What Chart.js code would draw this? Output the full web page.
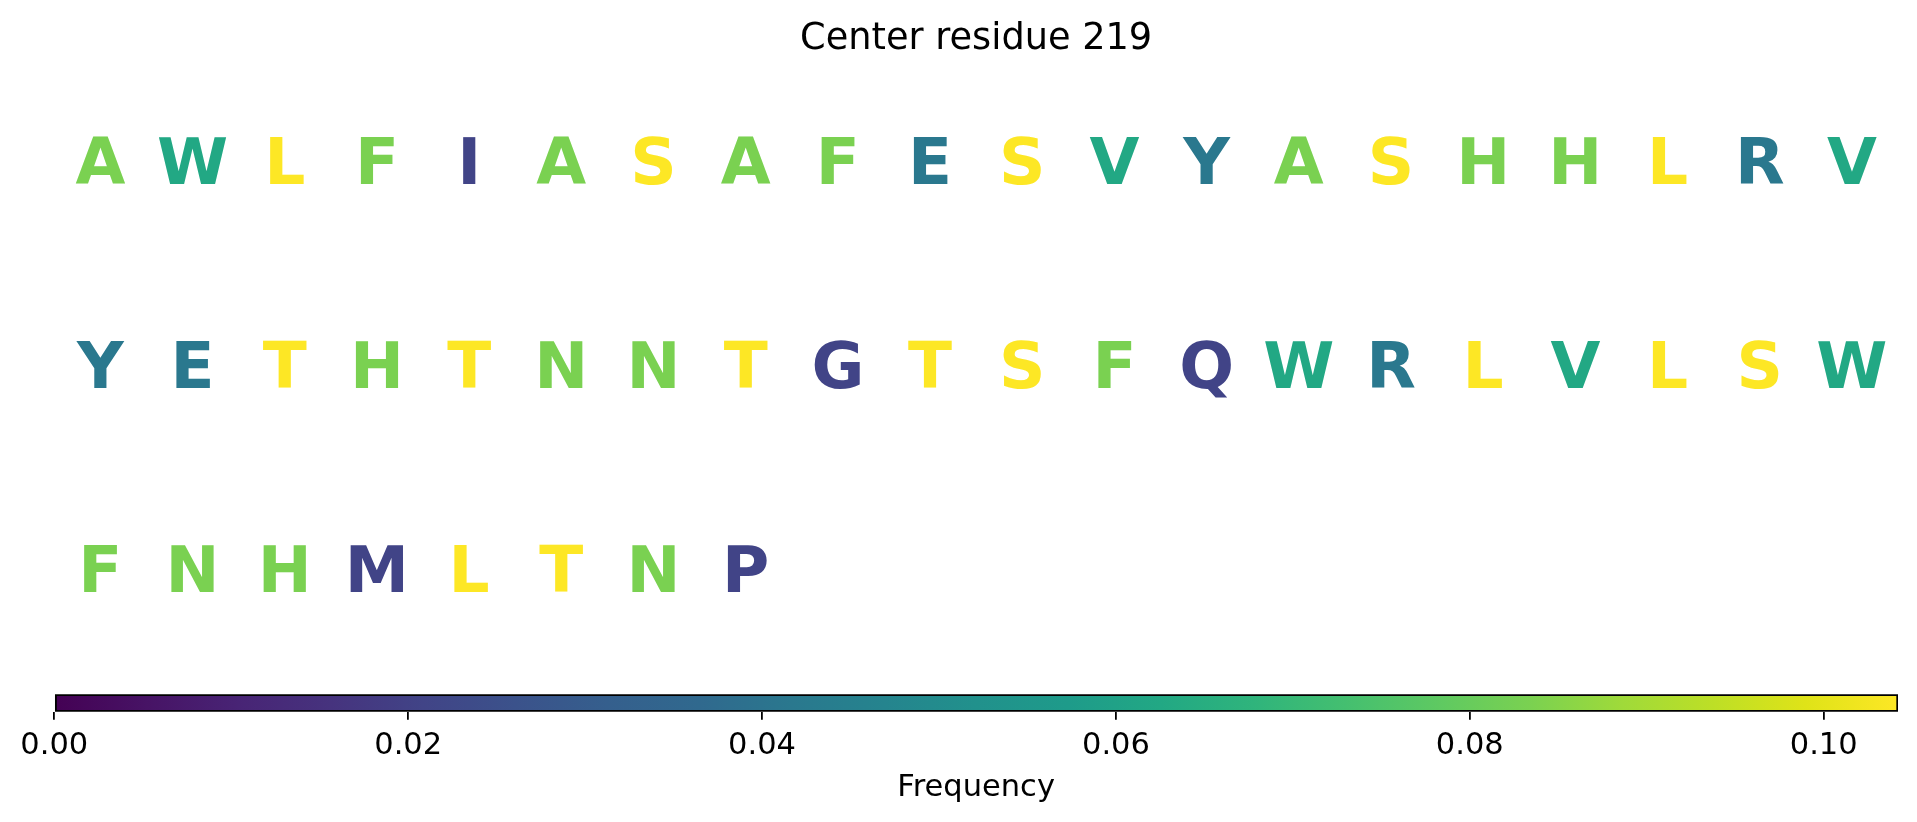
<!DOCTYPE html>
<html>
<head>
<meta charset="utf-8">
<script src="https://cdn.jsdelivr.net/npm/chart.js@4.4.1/dist/chart.umd.min.js"></script>
<style>
  html, body { margin: 0; padding: 0; background: #fff; }
  #main { position: absolute; left: 0; top: 0; width: 1917px; height: 680px; }
  #bar { position: absolute; left: 0; top: 680px; width: 1917px; height: 142px; }
</style>
</head>
<body>
<div id="main"><canvas id="letterChart"></canvas></div>
<div id="bar"><canvas id="colorbarChart"></canvas></div>
<script>
// residues in the order they are shown, 20 per row
const residues = [
    'A','W','L','F','I','A','S','A','F','E','S','V','Y','A','S','H','H','L','R','V',
    'Y','E','T','H','T','N','N','T','G','T','S','F','Q','W','R','L','V','L','S','W',
    'F','N','H','M','L','T','N','P'
];
const columnsPerRow = 20;
const rowCount = 3;

// frequency of each residue type
const aminoAcids  = ['L', 'S', 'T', 'A', 'F', 'H', 'N', 'W', 'V', 'E', 'Y', 'R', 'I', 'G', 'Q', 'M', 'P'];
const frequencies = [0.1042, 0.1042, 0.1042, 0.0833, 0.0833, 0.0833, 0.0833, 0.0625, 0.0625, 0.0417, 0.0417, 0.0417, 0.0208, 0.0208, 0.0208, 0.0208, 0.0208];

const colorbarMin = 0;
const colorbarMax = 0.1042;
const colorbarTicks = [0, 0.02, 0.04, 0.06, 0.08, 0.10];

const titleText = 'Center residue 219';
const colorbarLabel = 'Frequency';

// viridis colormap stops (0 .. 1 in steps of 0.05)
const viridis = [
    '#440154', '#471365', '#482475', '#46337e', '#414487', '#3b528b', '#355f8d',
    '#30698e', '#2a788e', '#25848e', '#21918c', '#1e9b8a', '#22a884', '#2fb47c',
    '#44bf70', '#5ec962', '#7ad151', '#9fda3a', '#bddf26', '#dfe318', '#fde725'
];

function hexToRgb(hex) {
    const n = parseInt(hex.slice(1), 16);
    return [(n >> 16) & 255, (n >> 8) & 255, n & 255];
}

function viridisColor(t) {
    t = Math.min(1, Math.max(0, t));
    const pos = t * (viridis.length - 1);
    const i = Math.min(viridis.length - 2, Math.floor(pos));
    const f = pos - i;
    const a = hexToRgb(viridis[i]);
    const b = hexToRgb(viridis[i + 1]);
    const c = a.map((v, k) => Math.round(v + (b[k] - v) * f));
    return `rgb(${c[0]},${c[1]},${c[2]})`;
}

function colorFor(letter) {
    const freq = frequencies[aminoAcids.indexOf(letter)];
    return viridisColor((freq - colorbarMin) / (colorbarMax - colorbarMin));
}

const letterSize = 64.5;
const fontFamily = '"DejaVu Sans", sans-serif';

const points = residues.map((r, i) => ({
    x: (i % columnsPerRow) + 0.5,
    y: Math.floor(i / columnsPerRow) + 0.5
}));

const letterPlugin = {
    id: 'letters',
    afterDatasetsDraw(chart) {
        const ctx = chart.ctx;
        const meta = chart.getDatasetMeta(0);
        ctx.save();
        ctx.font = `bold ${letterSize}px ${fontFamily}`;
        ctx.textAlign = 'center';
        ctx.textBaseline = 'alphabetic';
        meta.data.forEach((pt, i) => {
            ctx.fillStyle = colorFor(residues[i]);
            // put the middle of the capital letter on the point
            ctx.fillText(residues[i], pt.x, pt.y + letterSize * 0.3645);
        });
        ctx.restore();
    }
};

new Chart(document.getElementById('letterChart'), {
    type: 'scatter',
    data: {
        datasets: [{
            data: points,
            pointRadius: 0,
            pointHoverRadius: 0
        }]
    },
    options: {
        responsive: true,
        maintainAspectRatio: false,
        animation: false,
        events: [],
        layout: { padding: { left: 54.3, right: 19, top: 0, bottom: 9.8 } },
        plugins: {
            legend: { display: false },
            tooltip: { enabled: false },
            title: {
                display: true,
                text: titleText,
                color: '#000',
                font: { family: fontFamily, size: 36.7, weight: 'normal', lineHeight: 1 },
                padding: { top: 21.4, bottom: 0 }
            }
        },
        scales: {
            x: { type: 'linear', min: 0, max: columnsPerRow, display: false },
            y: { type: 'linear', min: 0, max: rowCount, reverse: true, display: false }
        }
    },
    plugins: [letterPlugin]
});

new Chart(document.getElementById('colorbarChart'), {
    type: 'bar',
    data: {
        labels: [''],
        datasets: [{
            data: [[colorbarMin, colorbarMax]],
            backgroundColor: function (context) {
                const area = context.chart.chartArea;
                if (!area) return viridis[0];
                const g = context.chart.ctx.createLinearGradient(area.left, 0, area.right, 0);
                viridis.forEach((c, i) => g.addColorStop(i / (viridis.length - 1), c));
                return g;
            },
            borderColor: '#000',
            borderWidth: 2,
            borderSkipped: false,
            barPercentage: 1,
            categoryPercentage: 1
        }]
    },
    options: {
        indexAxis: 'y',
        responsive: true,
        maintainAspectRatio: false,
        animation: false,
        events: [],
        layout: { padding: { left: 54.3, right: 19, top: 14.3, bottom: 0 } },
        plugins: {
            legend: { display: false },
            tooltip: { enabled: false }
        },
        scales: {
            y: { display: false },
            x: {
                type: 'linear',
                position: 'bottom',
                min: colorbarMin,
                max: colorbarMax,
                afterBuildTicks: scale => {
                    scale.ticks = colorbarTicks.map(v => ({ value: v }));
                },
                afterFit: scale => { scale.height = 110.3; },
                border: { display: false },
                grid: {
                    display: true,
                    drawOnChartArea: false,
                    drawTicks: true,
                    tickLength: 8,
                    color: '#000',
                    lineWidth: 1.8
                },
                ticks: {
                    color: '#000',
                    padding: 7.9,
                    maxRotation: 0,
                    autoSkip: false,
                    font: { family: fontFamily, size: 30.5 },
                    callback: v => v.toFixed(2)
                },
                title: {
                    display: true,
                    text: colorbarLabel,
                    color: '#000',
                    font: { family: fontFamily, size: 30.5 },
                    padding: { top: 0, bottom: 15.4 }
                }
            }
        }
    }
});
</script>
</body>
</html>
